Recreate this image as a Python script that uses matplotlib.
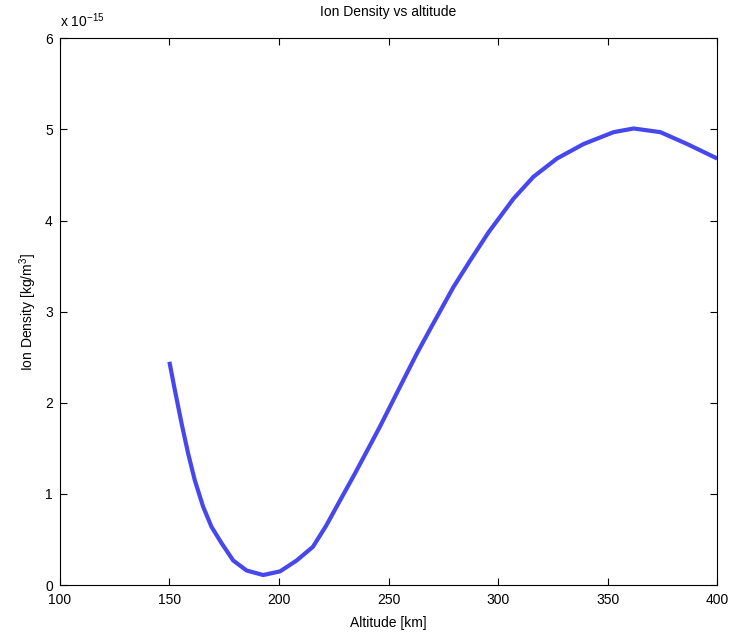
import numpy as np
import matplotlib.pyplot as plt

plt.rcParams['font.family'] = ['Liberation Sans', 'DejaVu Sans']
plt.rcParams['mathtext.fontset'] = 'custom'
plt.rcParams['mathtext.rm'] = 'Liberation Sans'

# values (density in units of 1e-15 kg/m^3)
altitude = [150.0, 152.5, 155.6, 158.6, 161.6, 165.4, 169.2, 173.8, 179.1, 185.2,
            192.8, 200.5, 208.1, 215.5, 221.5, 227.9, 233.9, 240.8, 246.1, 250.7,
            255.3, 262.9, 269.7, 279.6, 287.2, 295.6, 307.0, 316.1, 326.8, 339.0,
            352.7, 361.8, 374.0, 386.2, 400.0]
density_e15 = [2.45, 2.14, 1.77, 1.44, 1.15, 0.86, 0.64, 0.46, 0.27, 0.16,
               0.11, 0.15, 0.27, 0.42, 0.65, 0.93, 1.19, 1.50, 1.74, 1.96,
               2.18, 2.54, 2.84, 3.27, 3.56, 3.87, 4.24, 4.48, 4.68, 4.84,
               4.97, 5.01, 4.97, 4.84, 4.68]

x_ticks = [100, 150, 200, 250, 300, 350, 400]
y_ticks = [0, 1, 2, 3, 4, 5, 6]

fig = plt.figure(figsize=(7.29, 6.38), dpi=100)
ax = fig.add_axes([0.082, 0.083, 0.902, 0.857])

ax.plot(altitude, np.array(density_e15), color='#4747ee', linewidth=3.0,
        solid_capstyle='butt', solid_joinstyle='round')

ax.set_xlim(100, 400)
ax.set_ylim(0, 6)
ax.set_xticks(x_ticks)
ax.set_yticks(y_ticks)
ax.tick_params(direction='in', top=True, right=True, labelsize=10, length=5,
               width=0.8)
ax.tick_params(axis='x', pad=6)
ax.tick_params(axis='y', pad=5)
for s in ax.spines.values():
    s.set_linewidth(0.8)

ax.set_xlabel('Altitude [km]', fontsize=10, labelpad=6)
ax.set_ylabel('Ion Density [kg/m$^3$]', fontsize=10)
ax.set_title('Ion Density vs altitude', fontsize=10, pad=16)
ax.text(0.0, 1.015, 'x 10$^{-15}$', transform=ax.transAxes, fontsize=10,
        ha='left', va='bottom')

fig.savefig('out.png', dpi=100)
